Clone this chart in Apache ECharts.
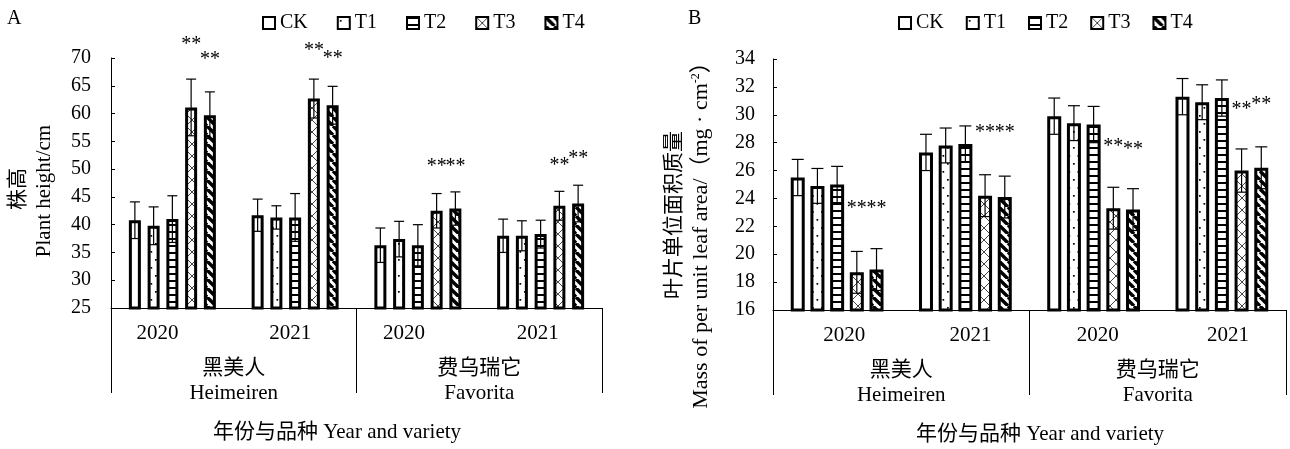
<!DOCTYPE html>
<html><head><meta charset="utf-8">
<script src="https://cdn.jsdelivr.net/npm/echarts@6/dist/echarts.min.js"></script>
<style>html,body{margin:0;padding:0;background:#fff}#c{width:1290px;height:449px}</style>
</head><body><div id="c"></div>
<script>
// ---------------- data ----------------
const years = ['2020', '2021', '2020', '2021'];
const varieties = ['黑美人\nHeimeiren', '费乌瑞它\nFavorita'];
const treatments = ['CK', 'T1', 'T2', 'T3', 'T4'];

// Panel A: plant height (cm), mean and SD
const heightCK = [40.8, 41.7, 36.3, 38.0];
const heightT1 = [39.8, 41.3, 37.4, 38.0];
const heightT2 = [41.0, 41.3, 36.3, 38.3];
const heightT3 = [61.1, 62.7, 42.5, 43.4];
const heightT4 = [59.7, 61.5, 42.9, 43.8];
const heightSdCK = [3.3, 2.9, 3.1, 3.0];
const heightSdT1 = [3.4, 2.1, 3.2, 2.7];
const heightSdT2 = [4.2, 4.3, 3.7, 2.5];
const heightSdT3 = [5.1, 3.5, 3.1, 2.6];
const heightSdT4 = [4.2, 3.4, 3.0, 3.3];
const heightSigT3 = ['**', '**', '**', '**'];
const heightSigT4 = ['**', '**', '**', '**'];
const heightSigAtT3 = [72.9, 71.8, 50.9, 51.1];   // label heights (data units)
const heightSigAtT4 = [70.2, 70.4, 50.9, 52.4];
const heightTicks = [25, 70, 5];                  // min, max, step

// Panel B: leaf mass per unit area (mg·cm-2), mean and SD
const massCK = [25.5, 27.3, 29.9, 31.3];
const massT1 = [24.9, 27.8, 29.4, 30.9];
const massT2 = [25.0, 27.9, 29.3, 31.2];
const massT3 = [18.7, 24.2, 23.3, 26.0];
const massT4 = [18.9, 24.1, 23.2, 26.2];
const massSdCK = [1.3, 1.3, 1.3, 1.3];
const massSdT1 = [1.25, 1.25, 1.25, 1.25];
const massSdT2 = [1.3, 1.3, 1.3, 1.3];
const massSdT3 = [1.5, 1.5, 1.5, 1.55];
const massSdT4 = [1.5, 1.5, 1.5, 1.5];
const massSigT3 = ['**', '**', '**', '**'];
const massSigT4 = ['**', '**', '**', '**'];
const massSigAtT3 = [23.5, 28.9, 27.9, 30.6];
const massSigAtT4 = [23.5, 28.9, 27.7, 30.9];
const massTicks = [16, 34, 2];

// ---------------- styling ----------------
const FONT = "'Liberation Serif','Times New Roman','Noto Sans CJK SC',serif";

function mkCanvas(w, h, draw) {
  const c = document.createElement('canvas');
  c.width = w; c.height = h;
  const g = c.getContext('2d');
  g.fillStyle = '#fff'; g.fillRect(0, 0, w, h);
  draw(g, w, h);
  return { image: c, repeat: 'repeat' };
}
const patterns = [
  '#ffffff',
  mkCanvas(9, 16, g => { g.fillStyle = '#000'; g.fillRect(2, 3, 1.7, 1.7); g.fillRect(6.5, 11, 1.7, 1.7); }),
  mkCanvas(4, 7, g => { g.fillStyle = '#000'; g.fillRect(0, 0, 4, 2); }),
  mkCanvas(12, 12, g => {
    g.strokeStyle = '#444'; g.lineWidth = 1;
    g.beginPath(); g.moveTo(0, 0); g.lineTo(12, 12); g.moveTo(12, 0); g.lineTo(0, 12); g.stroke();
  }),
  mkCanvas(9, 9, g => {
    g.strokeStyle = '#000'; g.lineWidth = 3.4;
    g.beginPath();
    for (let k = -1; k <= 1; k++) { g.moveTo(k * 9, 0); g.lineTo(k * 9 + 9, 9); }
    g.stroke();
  })
];

function richShifts(shifts) {
  const r = {};
  shifts.forEach((s, i) => {
    r['s' + i] = { fontSize: 21, fontFamily: FONT, color: '#000',
      padding: s < 0 ? [0, -2 * s, 0, 0] : [0, 0, 0, 2 * s] };
  });
  return r;
}

const panels = [
  { grid: { left: 111, right: 688, top: 58, bottom: 141 }, ticks: heightTicks,
    vals: [heightCK, heightT1, heightT2, heightT3, heightT4],
    sds: [heightSdCK, heightSdT1, heightSdT2, heightSdT3, heightSdT4],
    sigs: [null, null, null, heightSigT3, heightSigT4],
    sigAt: [null, null, null, heightSigAtT3, heightSigAtT4],
    barWidth: 12, barGap: '56.25%', step: 18.75, cap: 10, yMargin: 20,
    labelShift: [-15, -5, -14, -3] },
  { grid: { left: 773, right: 4, top: 59, bottom: 139 }, ticks: massTicks,
    vals: [massCK, massT1, massT2, massT3, massT4],
    sds: [massSdCK, massSdT1, massSdT2, massSdT3, massSdT4],
    sigs: [null, null, null, massSigT3, massSigT4],
    sigAt: [null, null, null, massSigAtT3, massSigAtT4],
    barWidth: 14, barGap: '40.7%', step: 19.7, cap: 12, yMargin: 18,
    labelShift: [7, 5, 4, 6] }
];

const grids = [], xAxes = [], yAxes = [], series = [];
panels.forEach((p, gi) => {
  grids.push(p.grid);
  xAxes.push({
    type: 'category', gridIndex: gi, data: years, position: 'bottom',
    axisLine: { show: true, lineStyle: { color: '#000', width: 1 } },
    axisTick: { show: false },
    axisLabel: { margin: 15, color: '#000', fontSize: 21, fontFamily: FONT,
      formatter: (v, i) => '{s' + i + '|' + v + '}', rich: richShifts(p.labelShift) },
    z: 5
  });
  xAxes.push({
    type: 'category', gridIndex: gi, data: varieties, position: 'bottom',
    axisLine: { show: false },
    axisTick: { show: true, length: 85, lineStyle: { color: '#000', width: 1 } },
    axisLabel: { margin: 48, color: '#000', fontSize: 21, lineHeight: 25, fontFamily: FONT }
  });
  yAxes.push({
    type: 'value', gridIndex: gi, min: p.ticks[0], max: p.ticks[1], interval: p.ticks[2],
    axisLine: { show: true, lineStyle: { color: '#000', width: 1 } },
    axisTick: { show: true, inside: true, length: 4, lineStyle: { color: '#000', width: 1 } },
    splitLine: { show: false },
    axisLabel: { margin: p.yMargin, color: '#000', fontSize: 20, fontFamily: FONT }
  });
  treatments.forEach((t, k) => {
    series.push({
      type: 'bar', name: t, xAxisIndex: gi * 2, yAxisIndex: gi, data: p.vals[k],
      barWidth: p.barWidth, barGap: p.barGap, clip: true,
      itemStyle: { color: patterns[k], borderColor: '#000', borderWidth: 3 },
      emphasis: { disabled: true }, z: 2
    });
  });
  treatments.forEach((t, k) => {
    const data = p.vals[k].map((v, i) => [i, v, p.sds[k][i], p.sigAt[k] ? p.sigAt[k][i] : 0]);
    series.push({
      type: 'custom', xAxisIndex: gi * 2, yAxisIndex: gi, silent: true, z: 10, clip: false,
      data: data,
      renderItem: (params, api) => {
        const cat = api.value(0), v = api.value(1), sd = api.value(2);
        const c = api.coord([cat, v]);
        const x = c[0] + (k - 2) * p.step;
        const yt = api.coord([cat, v + sd])[1];
        const yb = api.coord([cat, v - sd])[1];
        const h = p.cap / 2;
        const st = { stroke: '#000', lineWidth: 1.2 };
        const children = [
          { type: 'line', shape: { x1: x, y1: yt, x2: x, y2: yb }, style: st },
          { type: 'line', shape: { x1: x - h, y1: yt, x2: x + h, y2: yt }, style: st },
          { type: 'line', shape: { x1: x - h, y1: yb, x2: x + h, y2: yb }, style: st }
        ];
        if (p.sigs[k]) {
          const ys = api.coord([cat, api.value(3)])[1];
          children.push({ type: 'text', x: x, y: ys + 3,
            style: { text: p.sigs[k][params.dataIndex], fontSize: 20, fontFamily: FONT, fill: '#000',
              align: 'center', verticalAlign: 'middle' } });
        }
        return { type: 'group', children };
      }
    });
  });
});

const legendBase = {
  top: 8, itemWidth: 12, itemHeight: 12, icon: 'rect', selectedMode: false,
  data: treatments, textStyle: { fontSize: 20, fontFamily: FONT, color: '#000' }
};

const txt = (text, size) => ({ text, fontSize: size, fontFamily: FONT, fill: '#000', align: 'center', verticalAlign: 'middle' });

const option = {
  animation: false,
  textStyle: { fontFamily: FONT, color: '#000' },
  legend: [
    Object.assign({}, legendBase, { left: 257, itemGap: 29 }),
    Object.assign({}, legendBase, { left: 893, itemGap: 22 })
  ],
  grid: grids, xAxis: xAxes, yAxis: yAxes, series: series,
  graphic: [
    { type: 'text', left: 7, top: 9, style: { text: 'A', fontSize: 20, fontFamily: FONT, fill: '#000' } },
    { type: 'text', left: 688, top: 9, style: { text: 'B', fontSize: 20, fontFamily: FONT, fill: '#000' } },
    { type: 'text', x: 18, y: 189, rotation: Math.PI / 2, style: txt('株高', 21) },
    { type: 'text', x: 44, y: 191, rotation: Math.PI / 2, style: txt('Plant height/cm', 21) },
    { type: 'text', x: 674, y: 215, rotation: Math.PI / 2, style: txt('叶片单位面积质量', 21) },
    { type: 'text', x: 701, y: 230, rotation: Math.PI / 2,
      style: { text: '{a|Mass of per unit leaf area/（mg · cm}{s|-2}{a|）}', align: 'center', verticalAlign: 'middle',
        rich: { a: { fontSize: 22, fontFamily: FONT, fill: '#000', color: '#000' },
                s: { fontSize: 12, fontFamily: FONT, fill: '#000', color: '#000', verticalAlign: 'top', padding: [0, 0, 8, 0] } } } },
    { type: 'text', x: 337, y: 432, style: txt('年份与品种 Year and variety', 21) },
    { type: 'text', x: 1040, y: 434, style: txt('年份与品种 Year and variety', 21) }
  ]
};

const chart = echarts.init(document.getElementById('c'), null, { renderer: 'canvas' });
chart.setOption(option);
</script>
</body></html>
